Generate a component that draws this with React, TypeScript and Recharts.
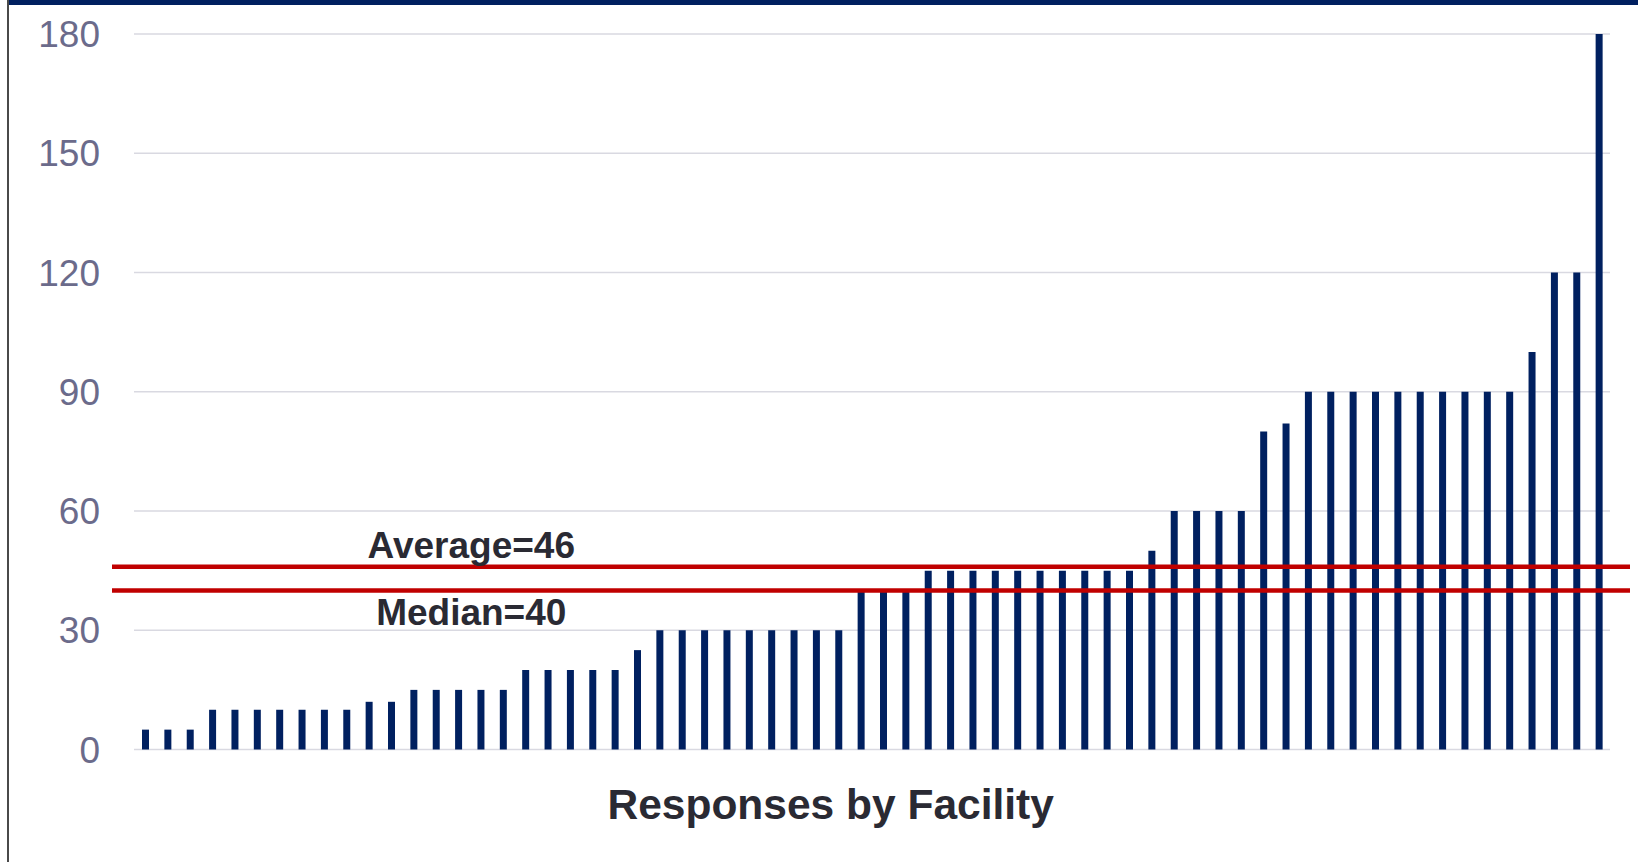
import { BarChart, Bar, XAxis, YAxis, CartesianGrid, ReferenceLine } from "recharts";

// responses per facility, sorted ascending
const responses = [
    5, 5, 5,
    10, 10, 10, 10, 10, 10, 10,
    12, 12,
    15, 15, 15, 15, 15,
    20, 20, 20, 20, 20,
    25,
    30, 30, 30, 30, 30, 30, 30, 30, 30,
    40, 40, 40,
    45, 45, 45, 45, 45, 45, 45, 45, 45, 45,
    50,
    60, 60, 60, 60,
    80, 82,
    90, 90, 90, 90, 90, 90, 90, 90, 90, 90,
    100,
    120, 120,
    180,
];

const facilities = responses.map((_, i) => `Facility ${i + 1}`);

const yTicks = [0, 30, 60, 90, 120, 150, 180];

const averageValue = 46;
const medianValue = 40;

const chartData = facilities.map((facility, i) => ({
    facility,
    responses: responses[i],
}));

const FONT = '"Liberation Sans", Arial, sans-serif';
const NAVY = "#002060";
const RED = "#c00000";
const LABEL_COLOR = "#2a2a33";

// red rule that runs a little past both ends of the plot
const WideLine = (props: any) => (
    <line
        x1={props.x1 - 22}
        y1={props.y1}
        x2={props.x2 + 20}
        y2={props.y2}
        stroke={RED}
        strokeWidth={4.5}
    />
);

const lineLabel = (text: string, dy: number) => (props: any) => {
    const { viewBox } = props;
    return (
        <text
            x={viewBox.x + viewBox.width * 0.2285}
            y={viewBox.y + dy}
            textAnchor="middle"
            fontFamily={FONT}
            fontWeight="bold"
            fontSize={37}
            fill={LABEL_COLOR}
        >
            {text}
        </text>
    );
};

const titleLabel = (props: any) => {
    const { viewBox } = props;
    return (
        <text
            x={viewBox.x + viewBox.width * 0.472}
            y={viewBox.y + 69}
            textAnchor="middle"
            fontFamily={FONT}
            fontWeight="bold"
            fontSize={42.5}
            fill={LABEL_COLOR}
        >
            Responses by Facility
        </text>
    );
};

export default function App() {
    return (
        <div
            style={{
                position: "absolute",
                left: 0,
                top: 0,
                width: 1638,
                height: 862,
                background: "#fff",
                overflow: "hidden",
            }}
        >
            <div
                style={{
                    position: "absolute",
                    left: 7,
                    top: 0,
                    right: 0,
                    height: 5,
                    background: NAVY,
                }}
            />
            <div
                style={{
                    position: "absolute",
                    left: 7,
                    top: 0,
                    width: 2,
                    height: 862,
                    background: "#4a4a4a",
                }}
            />
            <div style={{ position: "absolute", left: 0, top: 0 }}>
                <BarChart
                    width={1638}
                    height={862}
                    data={chartData}
                    margin={{ top: 34, right: 28, bottom: 0, left: 0 }}
                >
                    <CartesianGrid
                        vertical={false}
                        stroke="#d9d9e1"
                        strokeWidth={1.5}
                    />

                    <XAxis
                        dataKey="facility"
                        tick={false}
                        tickLine={false}
                        axisLine={false}
                        height={112.5}
                        label={titleLabel}
                    />

                    <YAxis
                        width={134}
                        domain={[0, 180]}
                        ticks={yTicks}
                        axisLine={false}
                        tickLine={false}
                        tickSize={0}
                        tickMargin={34}
                        tick={{
                            fill: "#6b6b8b",
                            fontSize: 37,
                            fontFamily: FONT,
                        }}
                    />

                    <Bar
                        dataKey="responses"
                        fill={NAVY}
                        barSize={7}
                        isAnimationActive={false}
                    />

                    <ReferenceLine
                        y={averageValue}
                        shape={WideLine}
                        label={lineLabel(`Average=${averageValue}`, -9)}
                    />
                    <ReferenceLine
                        y={medianValue}
                        shape={WideLine}
                        label={lineLabel(`Median=${medianValue}`, 34)}
                    />
                </BarChart>
            </div>
        </div>
    );
}
